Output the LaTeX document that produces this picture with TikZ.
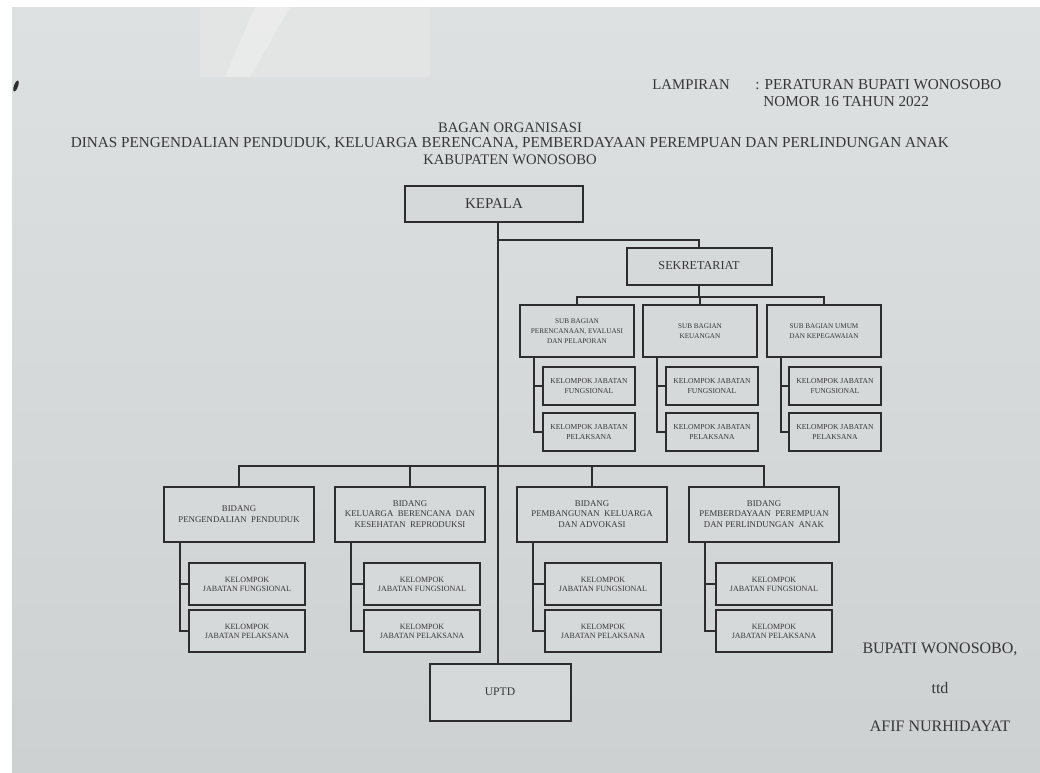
\documentclass[tikz,border=0pt]{standalone}
\usepackage{fontspec}
\setmainfont{Liberation Serif}
\definecolor{paper}{RGB}{214,217,217}
\definecolor{papertop}{RGB}{222,225,225}
\definecolor{paperdark}{RGB}{206,209,209}
\definecolor{glare}{RGB}{232,234,232}
\definecolor{ink}{RGB}{45,45,45}
\definecolor{txt}{RGB}{55,55,55}
\newcommand{\fs}[2]{\fontsize{#1}{#2}\selectfont}
\tikzset{
  box/.style={draw=ink, line width=1pt, fill=paper, align=center, text=txt, inner sep=0pt},
  conn/.style={draw=ink, line width=0.75pt},
  hdr/.style={text=txt, inner sep=0pt},
  sbbox/.style={box, minimum width=57pt, minimum height=26pt, font=\fs{3.6}{5}},
  sbk/.style={box, minimum width=46pt, minimum height=18.75pt, font=\fs{3.8}{4.6}},
  bdbox/.style={box, minimum width=75pt, minimum height=27.5pt, font=\fs{4.4}{5.2}},
  bdk/.style={box, minimum width=58pt, minimum height=20.75pt, font=\fs{4}{4.5}},
}
\begin{document}
\begin{tikzpicture}[x=0.5pt, y=-0.5pt]
\useasboundingbox (0,0) rectangle (1040,772);
\fill[white] (0,0) rectangle (1040,772);
\shade[top color=papertop, bottom color=paperdark] (12,7) rectangle (1041,773);
\fill[glare, opacity=0.5] (200,7) rectangle (430,77);
\fill[white, opacity=0.25] (255,7) -- (290,7) -- (250,77) -- (225,77) -- cycle;
\fill[ink, rotate around={70:(16,86)}] (16,86) ellipse (6 and 2);

% header texts
\node[hdr, anchor=west, font=\fs{7.4}{8}] (lamp) at (652,85) {LAMPIRAN};
\node[hdr, anchor=west, font=\fs{7.6}{8}] (perbup) at (755,85) {: PERATURAN BUPATI WONOSOBO};
\node[hdr, anchor=west, font=\fs{7.6}{8}] (nomor) at (763,102) {NOMOR 16 TAHUN 2022};
\node[hdr, font=\fs{7.3}{8}] (bagan) at (510,128) {BAGAN ORGANISASI};
\node[hdr, font=\fs{7.6}{8}] (dinas) at (510,144) {DINAS PENGENDALIAN PENDUDUK, KELUARGA BERENCANA, PEMBERDAYAAN PEREMPUAN DAN PERLINDUNGAN ANAK};
\node[hdr, font=\fs{7.3}{8}] (kab) at (510,160) {KABUPATEN WONOSOBO};

% top
\node[box, minimum width=89pt, minimum height=18pt, font=\fs{7.5}{8}] (kepala) at (494,204) {KEPALA};
\node[box, minimum width=72.5pt, minimum height=18.5pt, font=\fs{6.1}{7}] (sekr) at (699,266) {SEKRETARIAT};
\node[box, minimum width=70.5pt, minimum height=28.5pt, font=\fs{5.8}{6}] (uptd) at (500,692) {UPTD};

% sub bagian
\node[sbbox] (sb1) at (577,331) {SUB BAGIAN\\PERENCANAAN, EVALUASI\\DAN PELAPORAN};
\node[sbbox] (sb2) at (700,331) {SUB BAGIAN\\KEUANGAN};
\node[sbbox] (sb3) at (824,331) {SUB BAGIAN UMUM\\DAN KEPEGAWAIAN};

\node[sbk] (sf1) at (589,386) {KELOMPOK JABATAN\\FUNGSIONAL};
\node[sbk] (sp1) at (589,432) {KELOMPOK JABATAN\\PELAKSANA};
\node[sbk] (sf2) at (712,386) {KELOMPOK JABATAN\\FUNGSIONAL};
\node[sbk] (sp2) at (712,432) {KELOMPOK JABATAN\\PELAKSANA};
\node[sbk] (sf3) at (835,386) {KELOMPOK JABATAN\\FUNGSIONAL};
\node[sbk] (sp3) at (835,432) {KELOMPOK JABATAN\\PELAKSANA};

% bidang
\node[bdbox] (b1) at (239,514) {BIDANG\\PENGENDALIAN\ \ PENDUDUK};
\node[bdbox] (b2) at (410,514) {BIDANG\\KELUARGA\ \ BERENCANA\ \ DAN\\KESEHATAN\ \ REPRODUKSI};
\node[bdbox] (b3) at (592,514) {BIDANG\\PEMBANGUNAN\ \ KELUARGA\\DAN ADVOKASI};
\node[bdbox] (b4) at (764,514) {BIDANG\\PEMBERDAYAAN\ \ PEREMPUAN\\DAN PERLINDUNGAN\ \ ANAK};

\node[bdk] (bf1) at (247,584) {KELOMPOK\\JABATAN FUNGSIONAL};
\node[bdk] (bp1) at (247,631) {KELOMPOK\\JABATAN PELAKSANA};
\node[bdk] (bf2) at (422,584) {KELOMPOK\\JABATAN FUNGSIONAL};
\node[bdk] (bp2) at (422,631) {KELOMPOK\\JABATAN PELAKSANA};
\node[bdk] (bf3) at (603,584) {KELOMPOK\\JABATAN FUNGSIONAL};
\node[bdk] (bp3) at (603,631) {KELOMPOK\\JABATAN PELAKSANA};
\node[bdk] (bf4) at (774,584) {KELOMPOK\\JABATAN FUNGSIONAL};
\node[bdk] (bp4) at (774,631) {KELOMPOK\\JABATAN PELAKSANA};

% signature
\node[hdr, font=\fs{8}{9}] (bupati) at (940,649) {BUPATI WONOSOBO,};
\node[hdr, font=\fs{8}{9}] (ttd) at (940,688) {ttd};
\node[hdr, font=\fs{8}{9}] (afif) at (940,726) {AFIF NURHIDAYAT};

% connectors
\coordinate (trunk) at (498,450);
\coordinate (sekbr) at (498,240);
\coordinate (sbbar) at (700,297);
\coordinate (bdbar) at (498,466);
\draw[conn] (kepala.south -| trunk) -- (uptd.north -| trunk);
\draw[conn] (sekbr) -| (sekr.north);
\draw[conn] (sekr.south) -- (sekr.south |- sbbar);
\draw[conn] (sb1.north) -- (sb1.north |- sbbar) -- (sb3.north |- sbbar) -- (sb3.north);
\draw[conn] (sb2.north) -- (sb2.north |- sbbar);
\draw[conn] (b1.north) -- (b1.north |- bdbar) -- (b4.north |- bdbar) -- (b4.north);
\draw[conn] (b2.north) -- (b2.north |- bdbar);
\draw[conn] (b3.north) -- (b3.north |- bdbar);

\foreach \i in {1,2,3} {
  \coordinate (sv\i) at ([xshift=7.5pt]sb\i.south west);
  \draw[conn] (sv\i) |- (sp\i.west);
  \draw[conn] (sv\i |- sf\i.west) -- (sf\i.west);
}
\foreach \i in {1,2,3,4} {
  \coordinate (bv\i) at ([xshift=8.5pt]b\i.south west);
  \draw[conn] (bv\i) |- (bp\i.west);
  \draw[conn] (bv\i |- bf\i.west) -- (bf\i.west);
}
\end{tikzpicture}
\end{document}
